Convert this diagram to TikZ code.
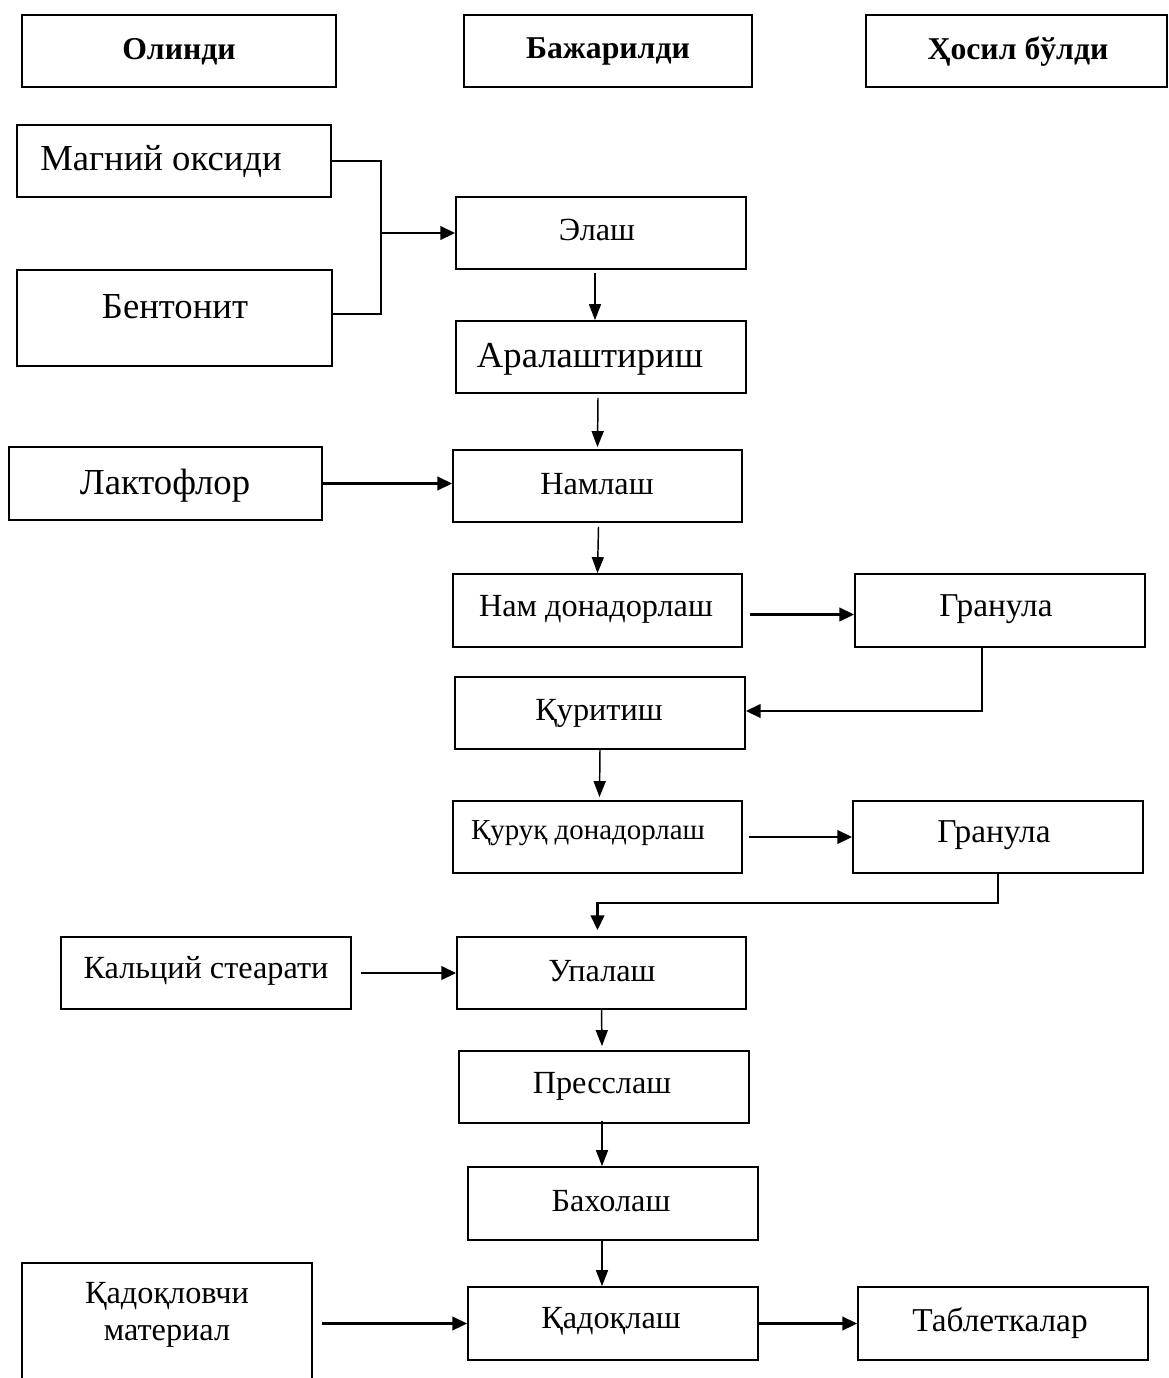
\documentclass[tikz,border=0pt]{standalone}
\usepackage{fontspec}
\setmainfont{Liberation Serif}
\usetikzlibrary{arrows.meta,fit,calc}
\tikzset{
  box/.style={draw, line width=1.3pt, inner sep=0pt, rectangle},
  lbl/.style={inner sep=0pt, anchor=center, align=center, yshift=-2.5pt},
  hdr/.style={lbl, font=\fontsize{23.8pt}{27pt}\selectfont\bfseries},
  fA/.style={lbl, font=\fontsize{27.5pt}{30pt}\selectfont},
  fB/.style={lbl, font=\fontsize{24.2pt}{27pt}\selectfont},
  fG/.style={lbl, font=\fontsize{25pt}{28pt}\selectfont},
  fC/.style={lbl, font=\fontsize{21.7pt}{24pt}\selectfont},
  varr/.style={line width=1.1pt, -{Triangle[length=12pt,width=9pt]}},
  harr/.style={line width=1.9pt, -{Triangle[length=11pt,width=10pt]}},
  brk/.style={line width=1.2pt},
}
\begin{document}
\begin{tikzpicture}[x=0.75pt,y=-0.75pt]
\useasboundingbox (0,0) rectangle (1169,1378);
\clip (0,0) rectangle (1169,1378);
% header boxes
\node[box, fit={(22,15) (336,87)}] (hO) {};
\node[box, fit={(464,15) (752,87)}] (hB) {};
\node[box, fit={(866,15) (1167,87)}] (hH) {};
\node[hdr] (thO) at (179,48) {Олинди};
\node[hdr] (thB) at (608,48) {Бажарилди};
\node[hdr] (thH) at (1018,48) {Ҳосил бўлди};
% boxes
\node[box, fit={(17,125) (331,197)}] (mag) {};
\node[box, fit={(17,270) (332,366)}] (bent) {};
\node[box, fit={(456,197) (746,269)}] (elash) {};
\node[box, fit={(456,321) (746,393)}] (aral) {};
\node[box, fit={(9,447) (322,520)}] (lakt) {};
\node[box, fit={(453,450) (742,522)}] (naml) {};
\node[box, fit={(453,574) (742,647)}] (namd) {};
\node[box, fit={(855,574) (1145,647)}] (gran1) {};
\node[box, fit={(455,677) (745,749)}] (qur) {};
\node[box, fit={(453,801) (742,873)}] (quruq) {};
\node[box, fit={(853,801) (1143,873)}] (gran2) {};
\node[box, fit={(61,937) (351,1009)}] (kal) {};
\node[box, fit={(457,937) (746,1009)}] (upal) {};
\node[box, fit={(459,1051) (749,1123)}] (press) {};
\node[box, fit={(468,1167) (758,1240)}] (bah) {};
\node[box, fit={(22,1263) (312,1400)}] (qadm) {};
\node[box, fit={(468,1287) (758,1360)}] (qad) {};
\node[box, fit={(858,1287) (1148,1360)}] (tab) {};
% texts
\node[fA] (tmag) at (161,158) {Магний оксиди};
\node[fA] (tbent) at (175,303) {Бентонит};
\node[fB] (telash) at (597,227) {Элаш};
\node[fA] (taral) at (590,356) {Аралаштириш};
\node[fA] (tlakt) at (165,482) {Лактофлор};
\node[fB] (tnaml) at (597,481) {Намлаш};
\node[fB] (tnamd) at (596,606) {Нам донадорлаш};
\node[fG] (tgran1) at (996,606) {Гранула};
\node[fB] (tqur) at (599,710) {Қуритиш};
\node[fC] (tquruq) at (588,830) {Қуруқ донадорлаш};
\node[fG] (tgran2) at (994,832) {Гранула};
\node[fB] (tkal) at (206,968) {Кальций стеарати};
\node[fB] (tupal) at (602,968) {Упалаш};
\node[fB] (tpress) at (602,1083) {Пресслаш};
\node[fB] (tbah) at (611,1198) {Бахолаш};
\node[fB] (tqadm1) at (167,1293) {Қадоқловчи};
\node[fB] (tqadm2) at (167,1333) {материал};
\node[fB] (tqad) at (611,1318) {Қадоқлаш};
\node[fG] (ttab) at (1000,1320) {Таблеткалар};
% connectors
\coordinate (jn) at (381,233);
\draw[brk] (mag.east) -| (jn) |- ($(bent.east)+(0,-4)$);
\draw[harr] (jn) -- (elash.west);
\draw[varr] ($(elash.south)+(-6,3)$) -- ($(aral.north)+(-6,0)$);
\draw[varr] ($(aral.south)+(-3,4)$) -- ($(naml.north)+(0,-2)$);
\draw[harr] (lakt.east) -- (lakt.east -| naml.west);
\draw[varr] ($(naml.south)+(1,4)$) -- (namd.north);
\draw[harr] ($(namd.east)+(7,4)$) -- ($(gran1.west)+(0,4)$);
\draw[harr] ($(gran1.south)+(-18,0)$) |- ($(qur.east)+(0,-2)$);
\draw[varr] ($(qur.south)+(0,0)$) -- ($(quruq.north)+(2,-3)$);
\draw[harr] ($(quruq.east)+(6,0)$) -- (gran2.west);
\draw[harr] (gran2.south) -- ++(0,29) -| ($(upal.north)+(-4,-6)$);
\draw[harr] ($(kal.east)+(9,0)$) -- (upal.west);
\draw[varr] (upal.south) -- ($(press.north)+(-2,-4)$);
\draw[varr] ($(press.south)+(-2,-3)$) -- ($(bah.north)+(-11,0)$);
\draw[varr] ($(bah.south)+(-11,0)$) -- ($(qad.north)+(-11,0)$);
\draw[harr] ($(qadm.east |- qad.west)+(9,0)$) -- (qad.west);
\draw[harr] (qad.east) -- (tab.west);
\end{tikzpicture}
\end{document}
